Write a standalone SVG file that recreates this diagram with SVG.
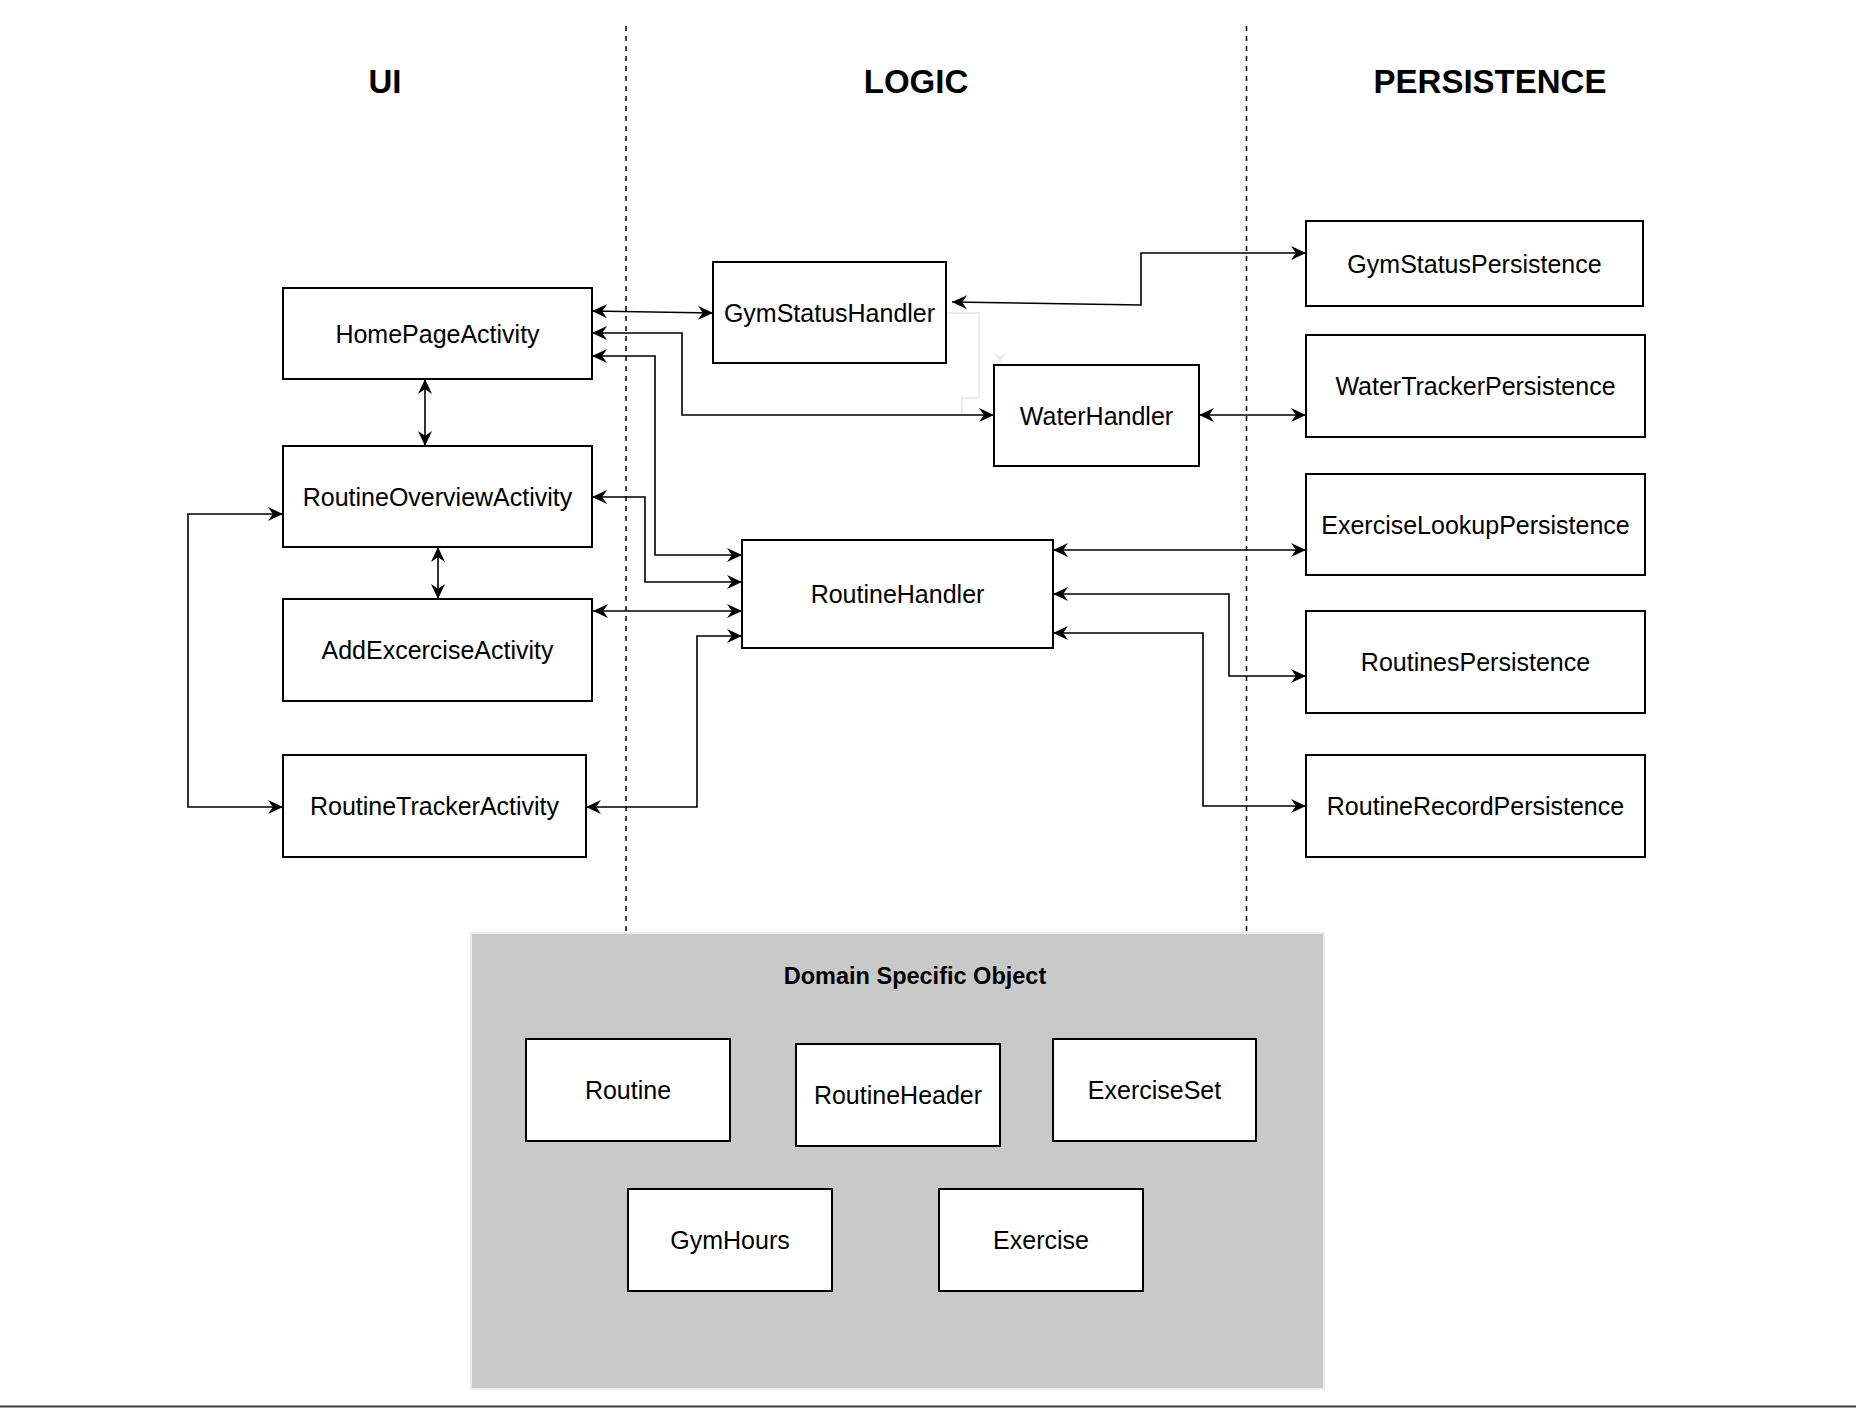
<svg xmlns="http://www.w3.org/2000/svg" width="1856" height="1408" viewBox="0 0 1856 1408">
<defs>
<style>
.bg{fill:#ffffff}
.node rect{fill:#ffffff;stroke:#000000;stroke-width:2}
.node text{font-family:"Liberation Sans",Arial,Helvetica,sans-serif;font-size:25px;fill:#000000;text-anchor:middle}
.title{font-family:"Liberation Sans",Arial,Helvetica,sans-serif;font-size:33px;font-weight:bold;fill:#000000;text-anchor:middle}
.divider{stroke:#000000;stroke-width:1.5;stroke-dasharray:5 5;fill:none}
.conn path{fill:none;stroke:#000000;stroke-width:1.6;marker-start:url(#arr);marker-end:url(#arr)}
.conn .ghost{fill:none;stroke:#eeeeee;stroke-width:2;marker-start:none;marker-end:none}
.conn .ghosthead{fill:#f0f0f0;stroke:none;marker-start:none;marker-end:none}
.domain{fill:#c9c9c9;stroke:#ececec;stroke-width:2}
.domtitle{font-family:"Liberation Sans",Arial,Helvetica,sans-serif;font-size:23.5px;font-weight:bold;fill:#000000;text-anchor:middle}
</style>
<marker id="arr" viewBox="0 0 15 15" refX="15" refY="7.5" markerWidth="15" markerHeight="15" markerUnits="userSpaceOnUse" orient="auto-start-reverse">
<path d="M15,7.5 L0,0.5 L4.8,7.5 L0,14.5 Z" fill="#000000"/>
</marker>
</defs>
<rect class="bg" x="0" y="0" width="1856" height="1408"/>

<g id="lanes">
<line class="divider" x1="626" y1="26" x2="626" y2="932"/>
<line class="divider" x1="1246.5" y1="26" x2="1246.5" y2="932"/>
<text class="title" x="385" y="93">UI</text>
<text class="title" x="916" y="93">LOGIC</text>
<text class="title" x="1490" y="93">PERSISTENCE</text>
</g>

<g id="domain">
<rect class="domain" x="471" y="933" width="853" height="456"/>
<text class="domtitle" x="915" y="984">Domain Specific Object</text>
</g>

<g id="n-homepage" class="node"><rect x="283" y="288" width="309" height="91"/><text x="437.5" y="342.5">HomePageActivity</text></g>
<g id="n-routineoverview" class="node"><rect x="283" y="446" width="309" height="101"/><text x="437.5" y="505.5">RoutineOverviewActivity</text></g>
<g id="n-addexcercise" class="node"><rect x="283" y="599" width="309" height="102"/><text x="437.5" y="659">AddExcerciseActivity</text></g>
<g id="n-routinetracker" class="node"><rect x="283" y="755" width="303" height="102"/><text x="434.5" y="815">RoutineTrackerActivity</text></g>

<g id="n-gymstatushandler" class="node"><rect x="713" y="262" width="233" height="101"/><text x="829.5" y="321.5">GymStatusHandler</text></g>
<g id="n-waterhandler" class="node"><rect x="994" y="365" width="205" height="101"/><text x="1096.5" y="424.5">WaterHandler</text></g>
<g id="n-routinehandler" class="node"><rect x="742" y="540" width="311" height="108"/><text x="897.5" y="603">RoutineHandler</text></g>

<g id="n-gymstatuspersistence" class="node"><rect x="1306" y="221" width="337" height="85"/><text x="1474.5" y="272.5">GymStatusPersistence</text></g>
<g id="n-watertrackerpersistence" class="node"><rect x="1306" y="335" width="339" height="102"/><text x="1475.5" y="395">WaterTrackerPersistence</text></g>
<g id="n-exerciselookuppersistence" class="node"><rect x="1306" y="474" width="339" height="101"/><text x="1475.5" y="533.5">ExerciseLookupPersistence</text></g>
<g id="n-routinespersistence" class="node"><rect x="1306" y="611" width="339" height="102"/><text x="1475.5" y="671">RoutinesPersistence</text></g>
<g id="n-routinerecordpersistence" class="node"><rect x="1306" y="755" width="339" height="102"/><text x="1475.5" y="815">RoutineRecordPersistence</text></g>

<g id="n-routine" class="node"><rect x="526" y="1039" width="204" height="102"/><text x="628" y="1099">Routine</text></g>
<g id="n-routineheader" class="node"><rect x="796" y="1044" width="204" height="102"/><text x="898" y="1104">RoutineHeader</text></g>
<g id="n-exerciseset" class="node"><rect x="1053" y="1039" width="203" height="102"/><text x="1154.5" y="1099">ExerciseSet</text></g>
<g id="n-gymhours" class="node"><rect x="628" y="1189" width="204" height="102"/><text x="730" y="1249">GymHours</text></g>
<g id="n-exercise" class="node"><rect x="939" y="1189" width="204" height="102"/><text x="1041" y="1249">Exercise</text></g>

<g id="connectors" class="conn">
<polyline class="ghost" points="947,313 979,313 979,398 962,398 962,415"/>
<path class="ghosthead" d="M993,352 L1000,363 L1007,352 L1000,356 Z"/>
<path d="M592,311 L713,313"/>
<path d="M592,333 H682 V415 H994"/>
<path d="M592,356 H655 V555 H742"/>
<path d="M425,379 V446"/>
<path d="M592,497 H645 V582 H742"/>
<path d="M438,547 V599"/>
<path d="M593,611 H742"/>
<path d="M586,807 H697 V636 H742"/>
<path d="M283,514 H188 V807 H283"/>
<path d="M952,302 L1141,305 V253 H1306"/>
<path d="M1199,415 H1306"/>
<path d="M1053,550 H1306"/>
<path d="M1053,594 H1229 V676 H1306"/>
<path d="M1053,633 H1203 V806 H1306"/>
</g>

<line x1="0" y1="1406.5" x2="1856" y2="1406.5" stroke="#3a3a3a" stroke-width="2"/>
</svg>
